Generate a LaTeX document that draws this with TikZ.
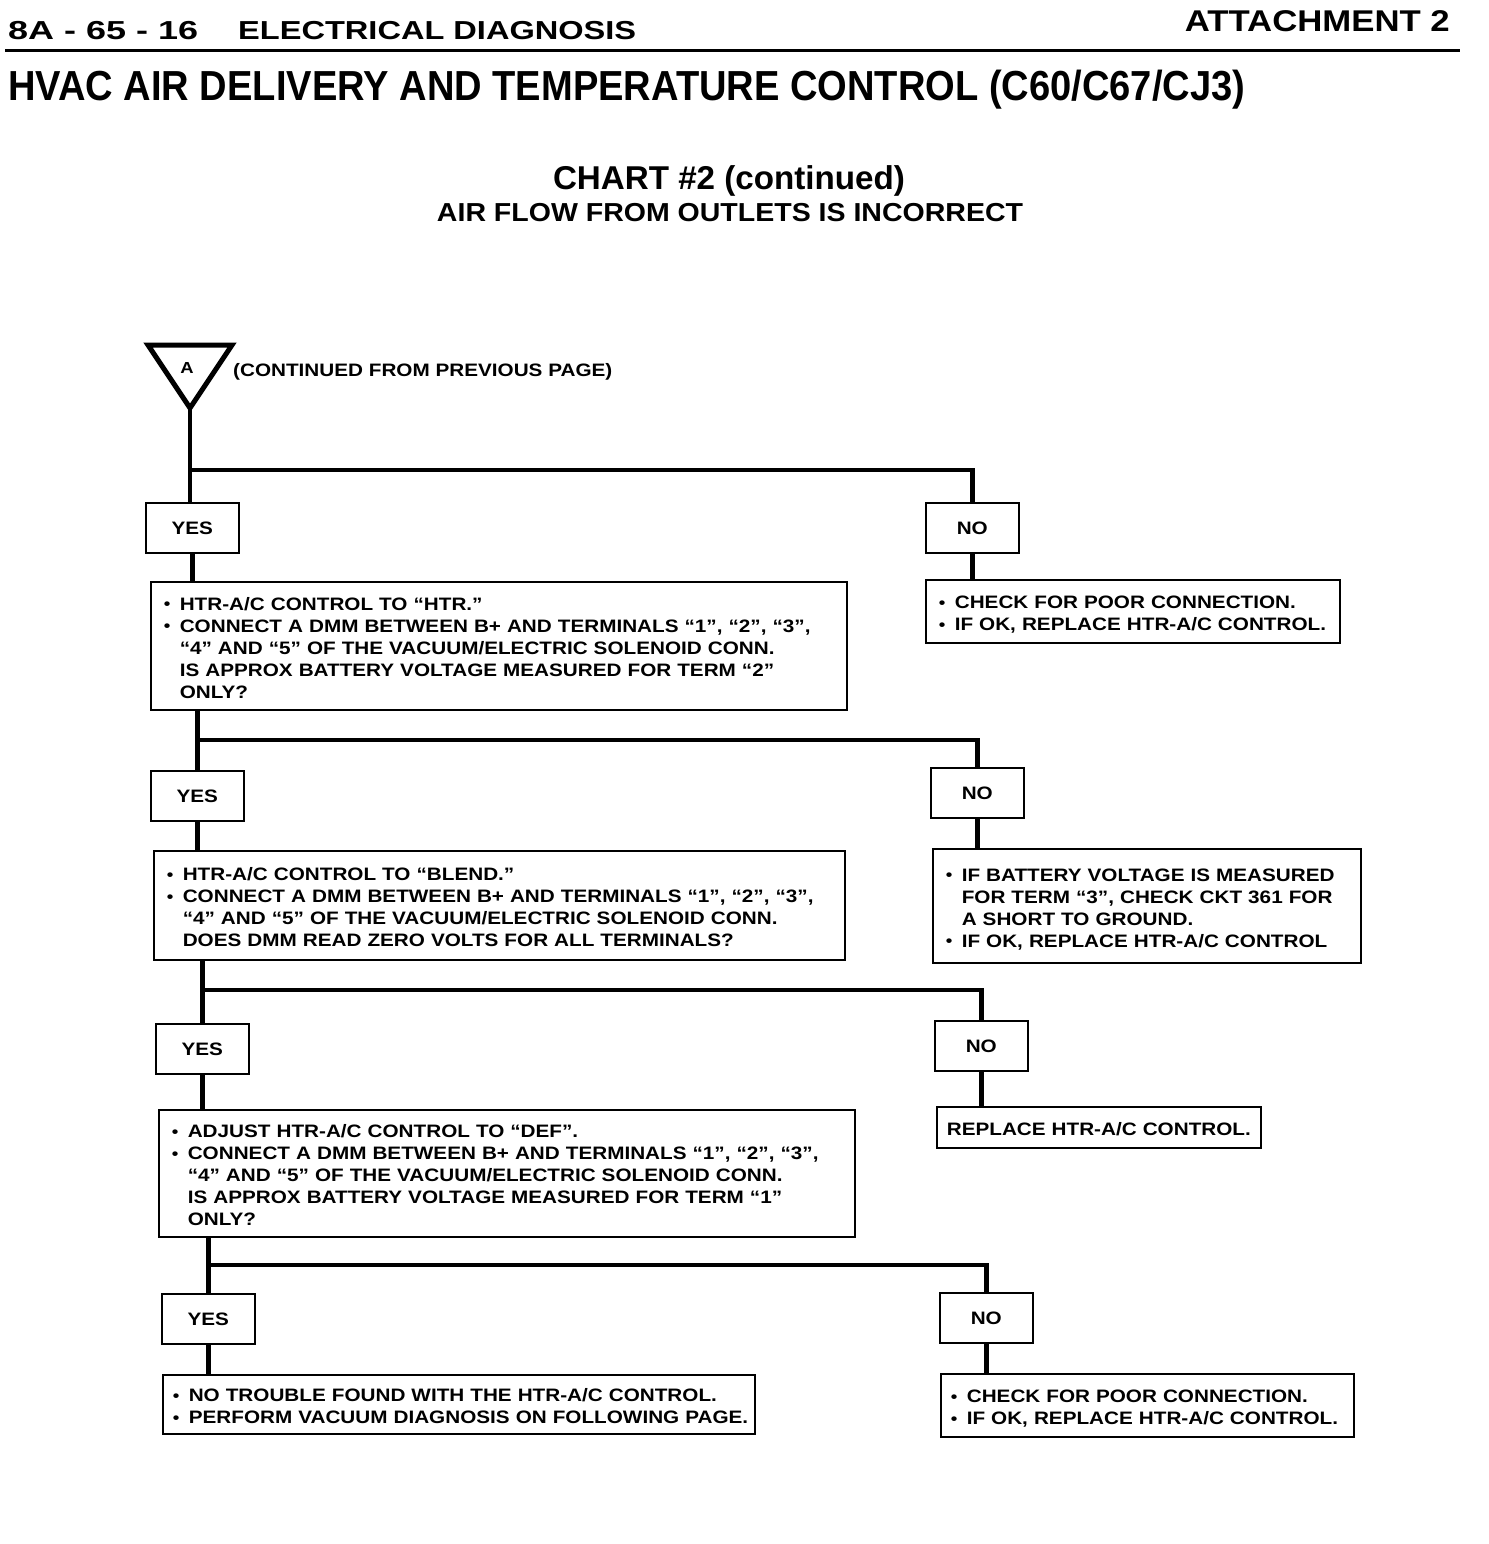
\documentclass[tikz,border=0pt]{standalone}
\usepackage{fontspec}
\usepackage{graphicx}
\setmainfont{Liberation Sans}
\newfontfamily\chartfam[FakeStretch=1.15]{Liberation Sans}
\usetikzlibrary{math}

\newcommand{\chartfont}{\chartfam\bfseries\fontsize{18}{22}\selectfont}
\newcommand{\bul}{\makebox[16pt][l]{\raisebox{0.5pt}{\scalebox{0.9}{\textbullet}}}}
\newcommand{\ind}{\hspace*{16pt}}
\newcommand{\fitw}[2]{\resizebox{#1}{\height}{#2}}
\newcommand{\boxlines}[1]{\raisebox{-4pt}[\height][\depth]{\begin{tabular}{@{}l@{}}#1\end{tabular}}}

\tikzset{
  box/.style={draw, line width=2.6pt, anchor=north west, inner xsep=13pt, inner ysep=0pt, align=left, font=\chartfont},
  ans/.style={draw, line width=2.6pt, anchor=north west, minimum width=93pt, minimum height=50pt, inner sep=0pt, font=\chartfont},
  conn/.style={line width=4.5pt},
}

\begin{document}
\begin{tikzpicture}[x=1pt,y=-1pt]
\useasboundingbox (0,0) rectangle (1488,1544);

%%%%%%%%%% page header
\node[anchor=base west, inner sep=0, font=\bfseries\fontsize{26}{30}\selectfont] (hdnum) at (8,40) {\fitw{190pt}{8A - 65 - 16}};
\node[anchor=base west, inner sep=0, font=\bfseries\fontsize{26}{30}\selectfont] (hdsec) at (238,40) {\fitw{398pt}{ELECTRICAL DIAGNOSIS}};
\node[anchor=base east, inner sep=0, font=\bfseries\fontsize{30}{34}\selectfont] (hdatt) at (1450,32) {\fitw{265pt}{ATTACHMENT 2}};
\draw[line width=3pt] (5,51) -- (1460,51);
\node[anchor=base west, inner sep=0, font=\bfseries\fontsize{42}{46}\selectfont] (title) at (8,101) {\fitw{1237pt}{HVAC AIR DELIVERY AND TEMPERATURE CONTROL (C60/C67/CJ3)}};

\node[anchor=base, inner sep=0, font=\bfseries\fontsize{33}{36}\selectfont] (chart) at (729,189) {\fitw{352pt}{CHART \#2 (continued)}};
\node[anchor=base, inner sep=0, font=\bfseries\fontsize{26}{30}\selectfont] (chsub) at (730,221) {\fitw{586pt}{AIR FLOW FROM OUTLETS IS INCORRECT}};

%%%%%%%%%% entry point A
\coordinate (apx) at (190,408);
\draw[line width=5pt] (148,345) -- (232,345) -- (apx) -- cycle;
\node[font=\chartfam\bfseries\fontsize{16}{18}\selectfont, inner sep=0] (lblA) at (187,368) {A};
\node[anchor=base west, inner sep=0, font=\chartfont] (contd) at (233,376) {(CONTINUED FROM PREVIOUS PAGE)};

%%%%%%%%%% level 1
\node[ans] (y1) at (144.5,501.5) {YES};
\node[ans] (n1) at (924.5,501.5) {NO};
\coordinate (br1) at (0,470);
\draw[conn] (apx) -- (apx |- y1.north);
\draw[conn] (apx |- br1) -| (n1.north);

\node[box, text width=670pt, minimum height=128pt] (b1) at (149.5,580.5) {\boxlines{%
\bul HTR-A/C CONTROL TO “HTR.”\\
\bul CONNECT A DMM BETWEEN B+ AND TERMINALS “1”, “2”, “3”,\\
\ind “4” AND “5” OF THE VACUUM/ELECTRIC SOLENOID CONN.\\
\ind IS APPROX BATTERY VOLTAGE MEASURED FOR TERM “2”\\
\ind ONLY?}};
\node[box, text width=388pt, minimum height=63pt] (nb1) at (924.5,578.5) {\boxlines{%
\bul CHECK FOR POOR CONNECTION.\\
\bul IF OK, REPLACE HTR-A/C CONTROL.}};
\draw[conn] (y1.south) -- (y1.south |- b1.north);
\draw[conn] (n1.south) -- (n1.south |- nb1.north);

%%%%%%%%%% level 2
\node[ans] (y2) at (149.5,769.5) {YES};
\node[ans] (n2) at (929.5,766.5) {NO};
\coordinate (br2) at (0,740);
\draw[conn] (y2.north |- b1.south) -- (y2.north);
\draw[conn] (y2.north |- br2) -| (n2.north);

\node[box, text width=665pt, minimum height=109pt] (b2) at (152.5,849.5) {\boxlines{%
\bul HTR-A/C CONTROL TO “BLEND.”\\
\bul CONNECT A DMM BETWEEN B+ AND TERMINALS “1”, “2”, “3”,\\
\ind “4” AND “5” OF THE VACUUM/ELECTRIC SOLENOID CONN.\\
\ind DOES DMM READ ZERO VOLTS FOR ALL TERMINALS?}};
\node[box, text width=402pt, minimum height=114pt] (nb2) at (931.5,847.5) {\boxlines{%
\bul IF BATTERY VOLTAGE IS MEASURED\\
\ind FOR TERM “3”, CHECK CKT 361 FOR\\
\ind A SHORT TO GROUND.\\
\bul IF OK, REPLACE HTR-A/C CONTROL}};
\draw[conn] (y2.south) -- (y2.south |- b2.north);
\draw[conn] (n2.south) -- (n2.south |- nb2.north);

%%%%%%%%%% level 3
\node[ans] (y3) at (154.5,1022.5) {YES};
\node[ans] (n3) at (933.5,1019.5) {NO};
\coordinate (br3) at (0,990);
\draw[conn] (y3.north |- b2.south) -- (y3.north);
\draw[conn] (y3.north |- br3) -| (n3.north);

\node[box, text width=670pt, minimum height=127pt] (b3) at (157.5,1108.5) {\boxlines{%
\bul ADJUST HTR-A/C CONTROL TO “DEF”.\\
\bul CONNECT A DMM BETWEEN B+ AND TERMINALS “1”, “2”, “3”,\\
\ind “4” AND “5” OF THE VACUUM/ELECTRIC SOLENOID CONN.\\
\ind IS APPROX BATTERY VOLTAGE MEASURED FOR TERM “1”\\
\ind ONLY?}};
\node[box, inner xsep=10pt, text width=304pt, minimum height=41pt] (nb3) at (935.5,1105.5) {\boxlines{%
REPLACE HTR-A/C CONTROL.}};
\draw[conn] (y3.south) -- (y3.south |- b3.north);
\draw[conn] (n3.south) -- (n3.south |- nb3.north);

%%%%%%%%%% level 4
\node[ans] (y4) at (160.5,1292.5) {YES};
\node[ans] (n4) at (938.5,1291.5) {NO};
\coordinate (br4) at (0,1265);
\draw[conn] (y4.north |- b3.south) -- (y4.north);
\draw[conn] (y4.north |- br4) -| (n4.north);

\node[box, inner xsep=10pt, text width=572pt, minimum height=59pt] (b4) at (161.5,1373.5) {\boxlines{%
\bul NO TROUBLE FOUND WITH THE HTR-A/C CONTROL.\\
\bul PERFORM VACUUM DIAGNOSIS ON FOLLOWING PAGE.}};
\node[box, inner xsep=10pt, text width=393pt, minimum height=63pt] (nb4) at (939.5,1372.5) {\boxlines{%
\bul CHECK FOR POOR CONNECTION.\\
\bul IF OK, REPLACE HTR-A/C CONTROL.}};
\draw[conn] (y4.south) -- (y4.south |- b4.north);
\draw[conn] (n4.south) -- (n4.south |- nb4.north);

\end{tikzpicture}
\end{document}
